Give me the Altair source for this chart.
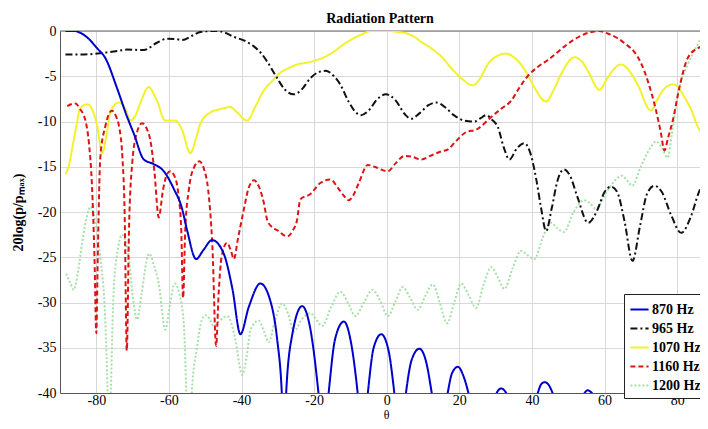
import altair as alt
import pandas as pd

series_names = ["870 Hz", "965 Hz", "1070 Hz", "1160 Hz", "1200 Hz"]
series_colors = ["#0000cc", "#111111", "#f2f22a", "#dd1414", "#a6e0a6"]
series_dashes = [[1, 0], [7, 3, 2, 3], [1, 0], [5, 3], [2, 2]]
series_widths = [2, 2, 2.6, 2, 2]

theta_870 = [-88.5, -86.0, -84.4, -82.0, -79.8, -77.5, -74.3, -71.5, -69.7, -66.9, -64.2, -61.4, -58.7, -56.4, -55.0,
             -52.5, -50.5, -48.1, -44.9, -42.5, -40.3, -38.0, -34.8, -32.0, -30.2, -28.9, -28.3, -27.7, -26.0, -23.3,
             -21.0, -18.8, -17.4, -16.0, -14.2, -11.8, -9.8, -8.0, -6.6, -5.2, -3.6, -1.5, 0.6, 2.1, 3.7, 5.3, 6.9,
             9.0, 11.0, 12.4, 14.6, 16.8, 18.0, 19.6, 21.2, 22.5, 26.5, 30.3, 31.5, 32.9, 37.0, 41.6, 42.6, 43.6,
             44.6, 45.7, 50.0, 54.5, 55.4, 56.5, 62.0, 67.8, 73.0, 78.0, 82.0, 87.0, 89.0]
db_870 = [0.0, 0.0, -0.2, -0.9, -1.9, -3.0, -6.3, -9.5, -11.3, -14.2, -14.7, -15.5, -17.4, -19.6, -22.0,
          -25.2, -24.2, -23.1, -24.6, -28.5, -33.5, -30.5, -27.9, -29.9, -34.0, -40.0, -46.0, -40.0, -33.5, -30.4,
          -33.0, -40.0, -46.0, -40.0, -34.0, -32.1, -34.5, -40.0, -46.0, -40.0, -35.0, -33.5, -35.5, -40.0, -46.0,
          -40.0, -36.3, -35.1, -36.8, -40.0, -46.0, -40.0, -37.8, -37.1, -38.2, -40.0, -50.0, -40.0, -39.5, -40.0,
          -48.0, -40.0, -39.0, -38.8, -39.1, -40.0, -47.0, -40.0, -39.7, -40.0, -46.0, -40.3, -46.0, -42.0, -45.0,
          -39.8, -41.0]

theta_965 = [-88.5, -84.0, -78.9, -74.0, -71.5, -68.0, -66.9, -63.3, -60.5, -58.0, -56.4, -53.5, -51.3, -48.0, -46.7,
             -44.5, -42.1, -39.0, -36.6, -34.5, -32.9, -30.2, -28.0, -25.6, -23.5, -21.0, -18.5, -16.9, -14.5, -12.8,
             -10.5, -8.2, -7.1, -5.0, -2.5, -0.2, 2.5, 5.0, 6.7, 9.0, 11.5, 13.6, 16.0, 18.5, 21.4, 24.2, 26.0, 27.4,
             29.0, 30.6, 32.2, 33.8, 35.8, 37.9, 39.8, 41.2, 42.5, 43.9, 45.5, 47.0, 48.8, 50.5, 52.5, 55.5, 58.0,
             60.0, 61.8, 63.5, 65.5, 67.7, 69.8, 71.7, 73.7, 75.8, 78.3, 81.1, 83.8, 86.0, 88.0, 89.0]
db_965 = [-2.6, -2.6, -2.45, -2.2, -2.05, -2.1, -2.1, -1.3, -0.85, -0.9, -1.0, -0.5, -0.1, 0.0, 0.0,
          -0.2, -0.65, -1.1, -1.7, -2.5, -3.4, -5.2, -6.5, -7.0, -6.5, -5.2, -4.5, -4.4, -5.0, -5.9,
          -7.8, -9.1, -9.3, -8.8, -7.5, -7.0, -7.7, -9.2, -9.7, -9.1, -8.2, -7.9, -8.4, -9.3, -9.9, -10.0, -9.6, -9.3,
          -9.8, -10.6, -12.8, -14.2, -13.0, -12.4, -13.8, -16.4, -19.5, -22.1, -19.5, -16.6, -15.3, -16.0, -18.3,
          -21.2, -19.8, -17.8, -17.2, -17.8, -21.0, -25.4, -21.5, -18.0, -17.1, -17.8, -20.3, -22.3, -20.5, -17.8,
          -16.4, -16.1]

theta_1070 = [-88.5, -87.5, -86.7, -85.5, -84.4, -82.4, -80.8, -79.8, -78.4, -77.2, -76.1, -73.8, -72.0, -70.6, -69.3,
              -67.9, -65.6, -63.3, -61.0, -59.5, -58.2, -56.4, -54.1, -52.5, -51.3, -48.6, -45.5, -43.1, -41.2, -38.5,
              -36.0, -33.9, -31.5, -29.3, -27.0, -24.7, -22.0, -19.2, -16.8, -14.6, -12.3, -10.0, -7.0, -4.3, 0.3, 3.0,
              5.8, 7.8, 9.5, 12.2, 15.0, 18.0, 20.5, 23.7, 25.8, 27.8, 30.2, 32.9, 35.0, 37.0, 38.8, 40.7, 43.9, 46.0,
              48.0, 51.7, 53.6, 55.4, 58.6, 60.5, 61.8, 64.6, 67.0, 69.1, 72.8, 74.5, 76.0, 78.8, 80.5, 82.0, 84.0,
              85.7, 88.4, 89.0]
db_1070 = [-15.8, -14.8, -13.1, -10.5, -8.5, -8.1, -9.0, -10.4, -13.5, -11.5, -8.9, -7.9, -8.6, -9.9, -9.4,
           -8.0, -6.2, -7.7, -9.9, -9.9, -9.9, -10.9, -13.5, -11.8, -10.2, -9.0, -8.6, -8.4, -9.0, -9.9,
           -8.2, -6.6, -5.5, -4.6, -4.1, -3.7, -3.5, -3.2, -2.8, -2.3, -1.6, -1.0, -0.4, 0.0, 0.0, -0.1,
           -0.3, -0.7, -1.2, -1.9, -2.8, -4.2, -5.2, -6.0, -5.2, -3.7, -2.8, -2.5, -2.9, -3.7, -4.8, -6.25, -7.8, -6.5,
           -4.8, -2.9, -3.3, -4.4, -6.5, -5.4, -4.6, -3.7, -4.5, -5.9, -8.8, -7.6, -6.6, -5.9, -6.3, -7.3, -8.8,
           -10.6, -11.7, -11.8]

theta_1160 = [-88.0, -87.0, -85.8, -84.5, -83.0, -82.0, -81.2, -80.5, -80.0, -79.6, -78.9, -77.5, -75.7, -74.5, -73.8,
              -72.8, -72.2, -71.6, -71.0, -70.1, -68.8, -67.4, -66.0, -65.1, -64.0, -62.8, -61.6, -60.5, -59.6, -58.5,
              -57.4, -56.6, -56.1, -55.5, -54.5, -53.0, -51.6, -50.3, -49.2, -48.0, -47.0, -46.3, -45.5, -44.0, -42.9,
              -42.1, -41.0, -39.4, -38.0, -36.6, -35.2, -33.9, -32.9, -31.5, -30.2, -27.4, -25.8, -24.7, -23.8, -21.0,
              -18.3, -15.5, -13.5, -11.8, -10.5, -9.0, -7.7, -5.2, -3.4, 0.3, 2.5, 4.9, 7.0, 9.5, 12.0, 15.0, 16.8,
              19.0, 21.4, 25.1, 28.8, 31.5, 34.3, 36.5, 38.8, 41.5, 44.4, 49.0, 53.6, 58.6, 61.0, 63.6, 66.0, 68.2,
              70.0, 71.9, 74.2, 75.5, 76.5, 77.5, 78.8, 80.6, 82.9, 85.7, 88.4, 89.0]
db_1160 = [-8.3, -8.1, -8.0, -8.6, -9.9, -12.5, -17.0, -25.0, -33.4, -25.0, -14.0, -10.5, -8.8, -9.5, -10.4,
           -14.0, -20.0, -35.3, -22.0, -14.6, -11.2, -10.2, -10.9, -12.1, -15.5, -20.6, -17.5, -15.8, -15.5, -16.0,
           -18.0, -22.0, -29.5, -22.0, -17.5, -15.0, -14.4, -15.3, -17.5, -24.0, -34.8, -29.0, -25.0, -23.4, -24.3,
           -25.2, -23.0, -19.8, -17.3, -16.5, -17.2, -18.9, -20.9, -21.7, -22.0, -22.7, -22.0, -20.9, -18.6, -18.0,
           -16.8, -16.4, -17.3, -18.2, -18.7, -18.0, -16.8, -14.8, -15.0, -15.5, -14.6, -13.8, -13.9, -14.2, -13.8,
           -13.3, -13.1, -12.2, -11.3, -10.8, -9.5, -8.6, -7.7, -6.3, -5.0, -4.0, -3.2, -1.7, -0.5, 0.0, -0.3, -0.8,
           -1.5, -2.3, -3.5, -5.5, -8.8, -11.2, -13.2, -11.8, -9.9, -6.3, -3.0, -1.9, -1.6, -1.6]

theta_1200 = [-88.3, -87.2, -86.2, -85.0, -83.9, -82.6, -81.6, -80.3, -78.9, -77.5, -76.9, -76.5, -76.0, -75.2, -74.0,
              -72.9, -71.8, -71.1, -69.8, -68.8, -67.5, -66.2, -65.4, -64.2, -62.8, -61.0, -59.6, -58.4, -57.3, -55.9,
              -55.2, -54.6, -53.7, -52.2, -51.0, -49.9, -48.8, -47.7, -46.0, -44.0, -42.8, -41.7, -39.8, -38.6, -37.5,
              -35.3, -33.8, -32.5, -30.8, -28.8, -27.2, -25.6, -23.3, -21.0, -19.4, -17.8, -15.3, -12.8, -10.7, -8.6,
              -6.3, -3.9, -1.8, 0.3, 2.4, 4.4, 6.5, 8.5, 10.6, 12.7, 14.6, 16.6, 18.6, 20.5, 22.6, 24.6, 26.7, 28.8,
              30.6, 32.4, 34.7, 37.0, 38.9, 40.7, 43.0, 45.3, 47.0, 48.8, 51.5, 54.3, 55.9, 57.5, 61.0, 64.8, 66.2,
              67.6, 70.0, 72.5, 74.2, 75.8, 77.4, 78.5, 80.2, 82.9, 85.0, 86.6, 88.0]
db_1200 = [-26.8, -27.8, -28.6, -26.5, -23.4, -20.5, -19.4, -21.0, -25.0, -32.3, -40.0, -48.0, -40.0, -28.6, -24.0,
           -22.5, -23.5, -25.0, -29.8, -31.9, -29.0, -25.5, -24.6, -25.8, -27.9, -33.0, -30.0, -27.9, -28.8, -32.3,
           -40.0, -48.0, -40.0, -34.8, -32.0, -31.4, -31.8, -32.6, -32.0, -31.5, -32.3, -34.1, -38.0, -36.0, -33.0,
           -32.0, -33.2, -34.4, -32.0, -30.1, -31.2, -33.2, -31.8, -31.2, -31.9, -32.6, -30.5, -28.8, -30.0, -31.5,
           -30.0, -28.6, -29.8, -31.5, -29.9, -28.3, -29.5, -30.8, -29.3, -28.0, -30.0, -32.3, -30.0, -27.9, -29.2,
           -30.6, -28.0, -26.1, -27.2, -28.5, -26.2, -24.3, -24.8, -25.2, -22.8, -21.2, -21.8, -22.2, -20.0, -18.7,
           -19.0, -19.6, -17.5, -16.0, -16.5, -17.1, -15.0, -13.0, -12.2, -12.9, -14.0, -11.5, -7.0, -3.7, -2.0,
           -0.8, 0.0]

y_ticks = [0, -5, -10, -15, -20, -25, -30, -35, -40]
x_ticks = [-80, -60, -40, -20, 0, 20, 40, 60, 80]

# draw order: faint green first, blue last
draw = [("1200 Hz", theta_1200, db_1200), ("1070 Hz", theta_1070, db_1070),
        ("1160 Hz", theta_1160, db_1160), ("965 Hz", theta_965, db_965),
        ("870 Hz", theta_870, db_870)]
rows = []
for name, th, db in draw:
    for t, d in zip(th, db):
        rows.append({"series": name, "theta": t, "db": d})
df = pd.DataFrame(rows)

SERIF = "Liberation Serif"
PLOT_W, PLOT_H = 640, 362

leg = alt.Legend(title=None, orient="none", legendX=564, legendY=PLOT_H - 99,
                 symbolType="stroke", symbolSize=330, symbolStrokeWidth=2,
                 labelFont=SERIF, labelFontSize=14, labelFontWeight="bold",
                 labelColor="black", strokeColor="#222", fillColor="white",
                 padding=5, rowPadding=1, labelOffset=2, cornerRadius=0)

lines = alt.Chart(df).mark_line(clip=True, interpolate="monotone").encode(
    x=alt.X("theta:Q", scale=alt.Scale(domain=[-90, 86.3], nice=False, zero=False),
            axis=alt.Axis(values=x_ticks, title="θ", labelExpr="toString(datum.value)",
                          labelPadding=0,
                          titleX=326, titleY=21, titleBaseline="middle",
                          titleFont=SERIF, titleFontSize=12, titleFontWeight="normal")),
    y=alt.Y("db:Q", scale=alt.Scale(domain=[-40, 0], nice=False, zero=False),
            axis=alt.Axis(values=y_ticks, title="20log(p/pₘₐₓ)", labelExpr="toString(datum.value)",
                          titleX=-42, titleY=PLOT_H / 2, titleAngle=270, titleAlign="center",
                          titleBaseline="middle",
                          titleFont=SERIF, titleFontSize=14, titleFontWeight="bold")),
    color=alt.Color("series:N", scale=alt.Scale(domain=series_names, range=series_colors), legend=leg),
    strokeDash=alt.StrokeDash("series:N", scale=alt.Scale(domain=series_names, range=series_dashes), legend=leg),
    strokeWidth=alt.StrokeWidth("series:N", scale=alt.Scale(domain=series_names, range=series_widths), legend=None),
    detail="series:N",
)

top_rule = alt.Chart(pd.DataFrame({"top": [0]})).mark_rule(color="#666", strokeWidth=1).encode(y="top:Q")

chart = alt.layer(top_rule, lines).properties(
    width=PLOT_W, height=PLOT_H,
    title=alt.Title("Radiation Pattern", font=SERIF, fontSize=14, fontWeight="bold", color="black",
                    anchor="middle", offset=5, dy=7, frame="group"),
    autosize=alt.AutoSizeParams(type="none"),
    padding={"left": 52, "top": 23, "right": 0, "bottom": 28},
).configure_view(stroke=None).configure_axis(
    labelFont=SERIF, labelFontSize=14, labelColor="black", ticks=False, labelPadding=4,
    grid=True, gridColor="#d9d9d9", gridWidth=1, domainColor="#555", domainWidth=1,
    titleColor="black",
)

chart.save("out.html", embed_options={"renderer": "svg", "actions": False})
